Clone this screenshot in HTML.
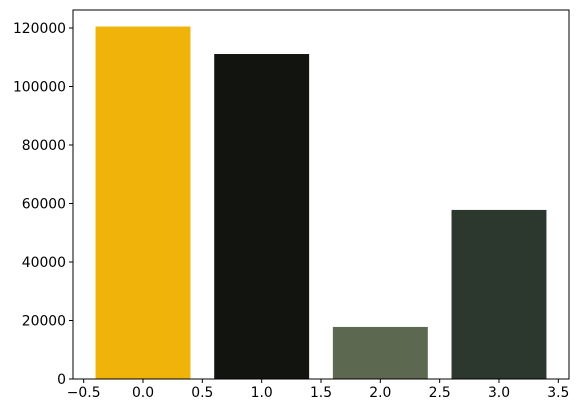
<!DOCTYPE html>
<html><head><meta charset="utf-8"><style>
body{margin:0;background:#fff;}
svg text{font-family:"DejaVu Sans","Liberation Sans",sans-serif;font-size:13.9px;fill:#000;}
</style></head><body>
<svg width="578" height="413" xmlns="http://www.w3.org/2000/svg">
<g id="bars"></g>
<g id="axes"></g>
</svg>
<script>
const categories=[0,1,2,3];
const values=[120500,111100,17800,57800];
const colors=['#f0b30a','#12140f','#5c6850','#2c382d'];
const xTicks=[-0.5,0.0,0.5,1.0,1.5,2.0,2.5,3.0,3.5];
const yTicks=[0,20000,40000,60000,80000,100000,120000];
const L=73,R=569,T=10,B=379;
const xMin=-0.59,xMax=3.59,yMax=126150;
const xs=v=>L+(v-xMin)/(xMax-xMin)*(R-L);
const ys=v=>B-v/yMax*(B-T);
const ns='http://www.w3.org/2000/svg';
const bars=document.getElementById('bars'),axes=document.getElementById('axes');
function mk(t,a,p){const e=document.createElementNS(ns,t);for(const k in a)e.setAttribute(k,a[k]);p.appendChild(e);return e;}
categories.forEach((c,i)=>{
 const r=mk('rect',{x:xs(c-0.4),y:ys(values[i]),width:xs(c+0.4)-xs(c-0.4),height:B-ys(values[i]),fill:colors[i]},bars);
 
 
});
const f=mk('rect',{x:L,y:T,width:R-L,height:B-T,fill:'none',stroke:'#000','stroke-width':1},axes);


xTicks.forEach(t=>{
 const x=xs(t);
 mk('line',{x1:x,x2:x,y1:B,y2:B+4,stroke:'#000'},axes);
 const tx=mk('text',{x:x,y:B+18,'text-anchor':'middle'},axes);
 tx.textContent=(t<0?'\u2212':'')+Math.abs(t).toFixed(1);
 
 
});
yTicks.forEach(t=>{
 const y=ys(t);
 mk('line',{x1:L-4,x2:L,y1:y,y2:y,stroke:'#000'},axes);
 const tx=mk('text',{x:L-7,y:y+5,'text-anchor':'end'},axes);
 tx.textContent=t;
 
 
});
</script>
</body></html>
